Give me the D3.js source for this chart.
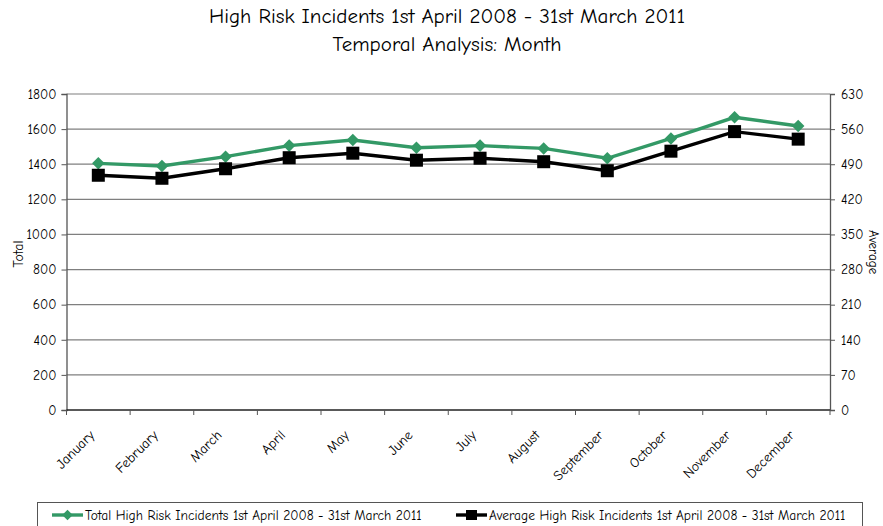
<!DOCTYPE html>
<html>
<head>
<meta charset="utf-8">
<script src="https://cdn.jsdelivr.net/npm/d3@7"></script>
<style>
  body { margin: 0; background: #fff; }
  svg { display: block; font-family: "Comic Sans MS", "Comic Neue", "DejaVu Sans", sans-serif; }
</style>
</head>
<body>
<svg id="chart" width="883" height="526"></svg>
<script>
// Monthly high-risk incident figures, April 2008 – March 2011
const months = ["January", "February", "March", "April", "May", "June",
                "July", "August", "September", "October", "November", "December"];
const totalIncidents = [1405, 1390, 1443, 1506, 1538, 1494, 1506, 1490, 1434, 1547, 1667, 1618];
const averageIncidents = [468, 462, 481, 503, 512, 498, 502, 495, 477, 516, 555, 540];
const leftTicks = [0, 200, 400, 600, 800, 1000, 1200, 1400, 1600, 1800];
const rightTicks = [0, 70, 140, 210, 280, 350, 420, 490, 560, 630];

const titleLines = ["High Risk Incidents 1st April 2008 - 31st March 2011", "Temporal Analysis: Month"];
const seriesNames = ["Total High Risk Incidents 1st April 2008 - 31st March 2011",
                     "Average High Risk Incidents 1st April 2008 - 31st March 2011"];

const green = "#339966";
const svg = d3.select("#chart");
const plot = { left: 66.5, right: 830, top: 94, bottom: 410 };

const x = d3.scaleBand().domain(months).range([plot.left, plot.right]);
const yL = d3.scaleLinear().domain([0, 1800]).range([plot.bottom, plot.top]);
const yR = d3.scaleLinear().domain([0, 630]).range([plot.bottom, plot.top]);

// Titles
svg.selectAll("text.title").data(titleLines).join("text")
  .attr("class", "title")
  .attr("x", 447).attr("y", (d, i) => 23 + i * 28)
  .attr("text-anchor", "middle")
  .attr("font-size", 21).attr("fill", "#000")
  .text(d => d);

// Horizontal gridlines
svg.append("g").selectAll("line").data(leftTicks.slice(1)).join("line")
  .attr("x1", plot.left).attr("x2", plot.right)
  .attr("y1", d => yL(d)).attr("y2", d => yL(d))
  .attr("stroke", "#7f7f7f").attr("stroke-width", 1.2);

// Left axis
const gL = svg.append("g").attr("transform", `translate(${plot.left},0)`)
  .call(d3.axisLeft(yL).tickValues(leftTicks).tickSize(5).tickPadding(5).tickFormat(d3.format("d")));
// Right axis
const gR = svg.append("g").attr("transform", `translate(${plot.right},0)`)
  .call(d3.axisRight(yR).tickValues(rightTicks).tickSize(5).tickPadding(6).tickFormat(d3.format("d")));
[gL, gR].forEach(g => {
  g.select(".domain").attr("stroke", "#555").attr("stroke-width", 1.3);
  g.selectAll(".tick line").attr("stroke", "#555");
  g.selectAll(".tick text").attr("font-size", 13.5).attr("fill", "#000")
    .attr("font-family", "\"Comic Sans MS\", \"Comic Neue\", \"DejaVu Sans\", sans-serif");
});

// Bottom axis: ticks at category boundaries
const gB = svg.append("g").attr("transform", `translate(0,${plot.bottom})`);
gB.append("line").attr("x1", plot.left).attr("x2", plot.right)
  .attr("stroke", "#222").attr("stroke-width", 1.3);
const boundaries = months.map(m => x(m)).concat([x(months[months.length - 1]) + x.bandwidth()]);
gB.selectAll("line.tk").data(boundaries).join("line").attr("class", "tk")
  .attr("x1", d => d).attr("x2", d => d).attr("y1", 0).attr("y2", 5)
  .attr("stroke", "#555");
gB.selectAll("text").data(months).join("text")
  .attr("transform", d => `translate(${x(d) + x.bandwidth() / 2 - 3},${26}) rotate(-45)`)
  .attr("text-anchor", "end")
  .attr("font-size", 14).attr("fill", "#000")
  .text(d => d);

// Axis titles
svg.append("text").attr("transform", "translate(23,254) rotate(-90)")
  .attr("text-anchor", "middle").attr("font-size", 14).text("Total");
svg.append("text").attr("transform", "translate(869,252) rotate(90)")
  .attr("text-anchor", "middle").attr("font-size", 13).text("Average");

const cx = d => x(d) + x.bandwidth() / 2;

// Total series
const totalData = months.map((m, i) => ({ m, v: totalIncidents[i] }));
svg.append("path").datum(totalData)
  .attr("fill", "none").attr("stroke", green).attr("stroke-width", 3.4)
  .attr("d", d3.line().x(d => cx(d.m)).y(d => yL(d.v)));
svg.append("g").selectAll("path").data(totalData).join("path")
  .attr("d", d3.symbol(d3.symbolDiamond2, 100))
  .attr("transform", d => `translate(${cx(d.m)},${yL(d.v)})`)
  .attr("fill", green);

// Average series
const avgData = months.map((m, i) => ({ m, v: averageIncidents[i] }));
svg.append("path").datum(avgData)
  .attr("fill", "none").attr("stroke", "#000").attr("stroke-width", 3.4)
  .attr("d", d3.line().x(d => cx(d.m)).y(d => yR(d.v)));
svg.append("g").selectAll("rect").data(avgData).join("rect")
  .attr("x", d => cx(d.m) - 6.5).attr("y", d => yR(d.v) - 6.5)
  .attr("width", 13).attr("height", 13).attr("fill", "#000");

// Legend
const legend = svg.append("g");
legend.append("rect").attr("x", 37.5).attr("y", 502.5).attr("width", 825).attr("height", 40)
  .attr("fill", "#fff").attr("stroke", "#555").attr("stroke-width", 1);
const items = [
  { x: 52, name: seriesNames[0], color: green, shape: "diamond" },
  { x: 456, name: seriesNames[1], color: "#000", shape: "square" }
];
items.forEach(it => {
  const g = legend.append("g");
  g.append("line").attr("x1", it.x).attr("x2", it.x + 31).attr("y1", 515).attr("y2", 515)
    .attr("stroke", it.color).attr("stroke-width", 3.4);
  if (it.shape === "diamond") {
    g.append("path").attr("d", d3.symbol(d3.symbolDiamond2, 70))
      .attr("transform", `translate(${it.x + 15.5},515)`).attr("fill", it.color);
  } else {
    g.append("rect").attr("x", it.x + 10).attr("y", 510).attr("width", 11).attr("height", 10).attr("fill", it.color);
  }
  g.append("text").attr("x", it.x + 33).attr("y", 520).attr("font-size", 13.5).attr("fill", "#000").text(it.name);
});
</script>
</body>
</html>
